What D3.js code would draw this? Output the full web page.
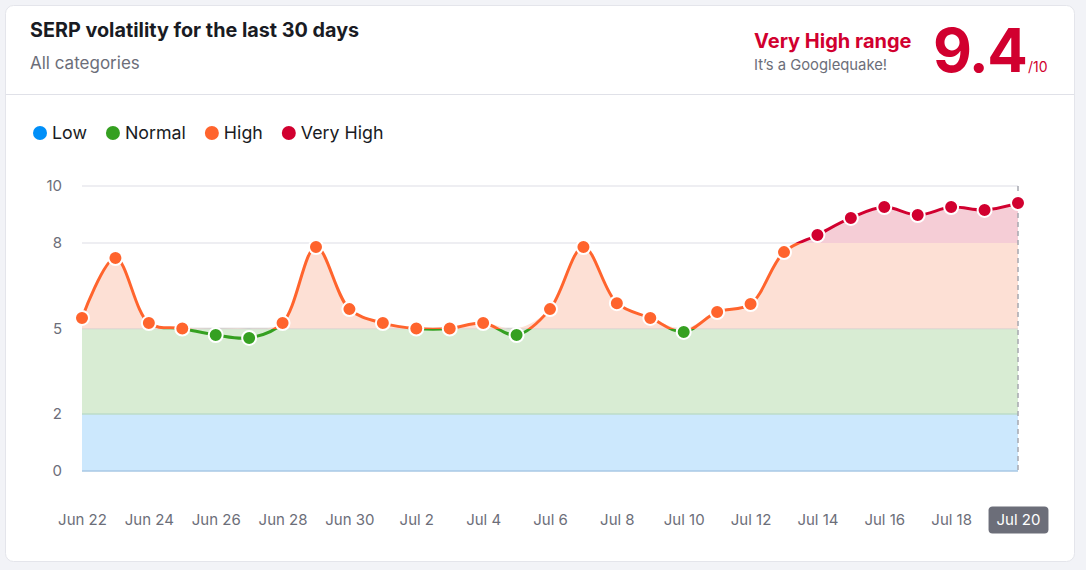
<!DOCTYPE html>
<html>
<head>
<meta charset="utf-8">
<script src="https://cdn.jsdelivr.net/npm/d3@7"></script>
<style>
  html, body { margin: 0; padding: 0; background: #f2f3f7; }
  svg { display: block; font-family: Inter, "Noto Sans", sans-serif; }
</style>
</head>
<body>
<svg id="chart" width="1086" height="570"></svg>
<script>
// chart data
const startDate = "2023-06-22";
const values = [5.37, 7.47, 5.19, 5.0, 4.77, 4.67, 5.19, 7.86, 5.68, 5.19, 5.0, 5.0, 5.19, 4.77,
  5.68, 7.86, 5.89, 5.37, 4.88, 5.58, 5.86, 7.68, 8.28, 8.88, 9.26, 8.98, 9.26, 9.16, 9.4];
const yTicks = [0, 2, 5, 8, 10];
const bands = [
  { name: "Low", from: 0, to: 2, color: "#008ff8", fill: "#cce8fd" },
  { name: "Normal", from: 2, to: 5, color: "#35a021", fill: "#d8ecd3" },
  { name: "High", from: 5, to: 8, color: "#ff642d", fill: "#fde0d5" },
  { name: "Very High", from: 8, to: 10, color: "#d1002f", fill: "#f5cdd6" }
];
const score = "9.4";

const parse = d3.timeParse("%Y-%m-%d");
const data = values.map((v, i) => ({ date: d3.timeDay.offset(parse(startDate), i), value: v }));

const svg = d3.select("#chart");

// card
svg.append("rect").attr("x", 5.5).attr("y", 5.5).attr("width", 1069).attr("height", 556)
  .attr("rx", 8).attr("fill", "#fff").attr("stroke", "#e4e5eb");
svg.append("line").attr("x1", 6).attr("x2", 1074).attr("y1", 94.5).attr("y2", 94.5)
  .attr("stroke", "#e0e1e8");

// header
svg.append("text").attr("x", 30).attr("y", 37).attr("font-size", 19.8).attr("font-weight", 700)
  .attr("fill", "#191b23").text("SERP volatility for the last 30 days");
svg.append("text").attr("x", 30).attr("y", 69).attr("font-size", 17)
  .attr("fill", "#6c6e79").text("All categories");
svg.append("text").attr("x", 754).attr("y", 48).attr("font-size", 20).attr("font-weight", 700)
  .attr("fill", "#d1002f").text("Very High range");
svg.append("text").attr("x", 754).attr("y", 70).attr("font-size", 14.8)
  .attr("fill", "#6c6e79").text("It’s a Googlequake!");
svg.append("text").attr("x", 933).attr("y", 72).attr("font-size", 60).attr("font-weight", 700)
  .attr("letter-spacing", -1.5).attr("fill", "#d1002f").text(score);
svg.append("text").attr("x", 1028).attr("y", 72).attr("font-size", 14)
  .attr("fill", "#d1002f").text("/10");

// legend
const legend = svg.append("g").attr("transform", "translate(40,133)");
let lx = 0;
bands.forEach(b => {
  const g = legend.append("g").attr("transform", `translate(${lx},0)`);
  g.append("circle").attr("r", 7).attr("fill", b.color);
  const t = g.append("text").attr("x", 12).attr("dy", "0.35em").attr("font-size", 17.8)
    .attr("fill", "#191b23").text(b.name);
  lx += 12 + t.node().getComputedTextLength() + 26;
});

// scales
const x = d3.scaleTime().domain(d3.extent(data, d => d.date)).range([82, 1018]);
const y = d3.scaleLinear().domain([0, 10]).range([471, 186]);

// static bands for Low and Normal
bands.slice(0, 2).forEach(b => {
  svg.append("rect").attr("x", x.range()[0]).attr("width", x.range()[1] - x.range()[0])
    .attr("y", y(b.to)).attr("height", y(b.from) - y(b.to)).attr("fill", b.fill);
});

// gridlines
const gridColor = { 0: "#a9c9e4", 2: "#bcdcc8", 5: "#cfcfcf", 8: "#e8e8ee", 10: "#e8e8ee" };
yTicks.forEach(t => {
  svg.append("line").attr("x1", x.range()[0]).attr("x2", x.range()[1])
    .attr("y1", y(t)).attr("y2", y(t)).attr("stroke", gridColor[t]).attr("stroke-width", 1.5);
});

// y axis labels
svg.append("g").attr("transform", "translate(62,0)")
  .call(d3.axisLeft(y).tickValues(yTicks).tickSize(0).tickPadding(0))
  .call(g => g.select(".domain").remove())
  .call(g => g.selectAll("text").attr("font-size", 15).attr("fill", "#6c6e79")
    .attr("font-family", "Inter, sans-serif"));

// gradients by value
const defs = svg.append("defs");
function bandGradient(id, key, extraBelow) {
  const grad = defs.append("linearGradient").attr("id", id)
    .attr("gradientUnits", "userSpaceOnUse")
    .attr("x1", 0).attr("x2", 0).attr("y1", y(0)).attr("y2", y(10));
  bands.forEach(b => {
    const c = (b.from < 5 && extraBelow) ? extraBelow : b[key];
    grad.append("stop").attr("offset", b.from / 10).attr("stop-color", c)
      .attr("stop-opacity", c === "none" ? 0 : 1);
    grad.append("stop").attr("offset", b.to / 10).attr("stop-color", c)
      .attr("stop-opacity", c === "none" ? 0 : 1);
  });
}
bandGradient("lineGrad", "color");
bandGradient("areaGrad", "fill", "none");

const curve = d3.curveCatmullRom.alpha(0.5);
const area = d3.area().x(d => x(d.date)).y0(y(5)).y1(d => y(Math.max(d.value, 4.999))).curve(curve);
svg.append("path").datum(data).attr("d", area).attr("fill", "url(#areaGrad)");

// dashed vertical line at last day
svg.append("line").attr("x1", x.range()[1]).attr("x2", x.range()[1])
  .attr("y1", y(10)).attr("y2", y(0)).attr("stroke", "#a7a8b0")
  .attr("stroke-width", 1.5).attr("stroke-dasharray", "5,4");

const line = d3.line().x(d => x(d.date)).y(d => y(d.value)).curve(curve);
svg.append("path").datum(data).attr("d", line).attr("fill", "none")
  .attr("stroke", "url(#lineGrad)").attr("stroke-width", 3);

function bandOf(v) {
  return bands.find(b => v >= b.from && v < b.to) || bands[bands.length - 1];
}
svg.append("g").selectAll("circle").data(data).join("circle")
  .attr("cx", d => x(d.date)).attr("cy", d => y(d.value)).attr("r", 7)
  .attr("fill", d => bandOf(d.value).color).attr("stroke", "#fff").attr("stroke-width", 2);

// x axis
const fmt = d3.timeFormat("%b %-d");
const xTicks = data.filter((d, i) => i % 2 === 0).map(d => d.date);
const last = data[data.length - 1].date;
const xa = svg.append("g").attr("transform", "translate(0,520)");
xa.call(d3.axisBottom(x).tickValues(xTicks).tickFormat(fmt).tickSize(0).tickPadding(0))
  .call(g => g.select(".domain").remove())
  .call(g => g.selectAll("text").attr("font-size", 15).attr("fill", "#6c6e79")
    .attr("font-family", "Inter, sans-serif").attr("dy", "0.35em"));
xa.selectAll(".tick").filter(d => +d === +last).each(function() {
  const tick = d3.select(this);
  const w = tick.select("text").node().getComputedTextLength() + 16;
  tick.insert("rect", "text").attr("x", -w / 2).attr("y", -13.5).attr("width", w).attr("height", 27)
    .attr("rx", 4).attr("fill", "#6c6e79");
  tick.select("text").attr("fill", "#fff");
});
</script>
</body>
</html>
